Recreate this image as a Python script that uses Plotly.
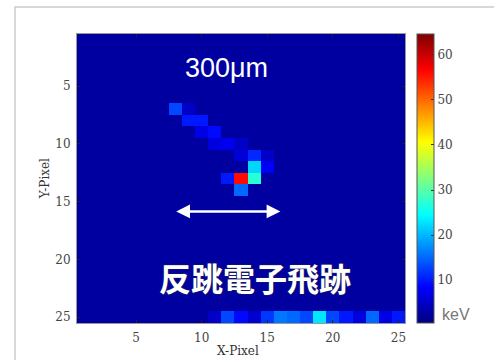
import plotly.graph_objects as go

# ---- data ----
n_pix = 25
background_kev = 2.5
track_x = [8, 9, 9, 10, 10, 11, 11, 12, 13, 13, 14, 15, 14, 15, 12, 13, 14, 13]
track_y = [7, 7, 8, 8, 9, 9, 10, 10, 10, 11, 11, 11, 12, 12, 13, 13, 13, 14]
track_kev = [13, 5, 10, 10, 7, 9, 6.5, 7.5, 5, 6, 11, 5, 22, 8, 10, 56, 27, 15]
edge_x = [11, 12, 13, 14, 15, 16, 17, 18, 19, 20, 21, 22, 23, 24, 25]
edge_kev = [5, 13, 9, 5.5, 12, 16, 15, 13, 23, 13, 10, 6.5, 15, 7, 10]
edge_row = 25
x_ticks = [5, 10, 15, 20, 25]
y_ticks = [5, 10, 15, 20, 25]
cbar_ticks = [10, 20, 30, 40, 50, 60]
cmin, cmax = 0.5, 64.6

# ---- build grid ----
z = [[background_kev] * n_pix for _ in range(n_pix)]
for xx, yy, v in zip(track_x, track_y, track_kev):
    z[yy - 1][xx - 1] = v
for xx, v in zip(edge_x, edge_kev):
    z[edge_row - 1][xx - 1] = v

jet = [
    [0.0, "rgb(0,0,128)"],
    [0.125, "rgb(0,0,255)"],
    [0.375, "rgb(0,255,255)"],
    [0.625, "rgb(255,255,0)"],
    [0.875, "rgb(255,0,0)"],
    [1.0, "rgb(128,0,0)"],
]

serif = dict(family="DejaVu Serif", size=12, color="#444")

fig = go.Figure(go.Heatmap(
    z=z, x=list(range(1, n_pix + 1)), y=list(range(1, n_pix + 1)),
    colorscale=jet, zmin=cmin, zmax=cmax, zsmooth=False, xgap=0, ygap=0,
    colorbar=dict(
        x=1.0366, xanchor="left", xref="paper", y=0.5, yanchor="middle",
        len=1.0, lenmode="fraction", thickness=17, thicknessmode="pixels",
        outlinecolor="#555", outlinewidth=1,
        tickvals=cbar_ticks, ticks="inside", ticklen=3, tickcolor="#333",
        tickfont=serif, ypad=0, xpad=0,
    ),
))

fig.update_xaxes(
    range=[0.5, 25.5], tickvals=x_ticks, ticks="inside", ticklen=3, tickcolor="#222",
    showline=True, linecolor="#999", linewidth=1, mirror="ticks",
    showgrid=False, zeroline=False, tickfont=serif, ticklabelstandoff=4,
)
fig.update_yaxes(
    range=[25.5, 0.5], tickvals=y_ticks, ticks="inside", ticklen=3, tickcolor="#222",
    showline=True, linecolor="#999", linewidth=1, mirror="ticks",
    showgrid=False, zeroline=False, tickfont=serif, ticklabelstandoff=3,
)

fig.add_annotation(x=11.9, y=3.4, xref="x", yref="y", text="300μm", showarrow=False,
                   xanchor="center", yanchor="middle",
                   font=dict(family="Liberation Sans", size=27, color="white"))
fig.add_annotation(x=16.0, y=15.85, ax=7.95, ay=15.85, xref="x", yref="y",
                   axref="x", ayref="y", text="", showarrow=True,
                   arrowhead=2, arrowside="end+start", arrowsize=1.1, arrowwidth=2.5,
                   arrowcolor="white", standoff=0, startstandoff=0)
fig.add_annotation(x=14.05, y=21.55, xref="x", yref="y", text="<b>反跳電子飛跡</b>",
                   showarrow=False, xanchor="center", yanchor="middle",
                   font=dict(family="Noto Sans CJK JP", size=32, color="white",
                             shadow="0px 0px 2px #333"))
fig.add_annotation(x=-0.098, y=0.5, xref="paper", yref="paper", text="Y-Pixel",
                   xanchor="center", yanchor="middle",
                   textangle=-90, showarrow=False, font=dict(family="DejaVu Serif", size=12, color="#333"))
fig.add_annotation(x=0.492, y=-0.098, xref="paper", yref="paper", text="X-Pixel",
                   xanchor="center", yanchor="middle", showarrow=False,
                   font=dict(family="DejaVu Serif", size=12, color="#333"))
fig.add_annotation(x=1.155, y=0.03, xref="paper", yref="paper", text="keV",
                   xanchor="center", yanchor="middle",
                   showarrow=False, font=dict(family="Liberation Sans", size=16, color="#777"))

fig.add_shape(type="rect", xref="paper", yref="paper", x0=-0.189, y0=-1, x1=2, y1=1.0934,
              line=dict(color="#cccccc", width=1.5), fillcolor="rgba(0,0,0,0)", layer="below")

fig.update_layout(
    width=494, height=360, margin=dict(l=77, r=89, t=34, b=37),
    paper_bgcolor="white", plot_bgcolor="white", showlegend=False,
)
fig.write_html("out.html")
